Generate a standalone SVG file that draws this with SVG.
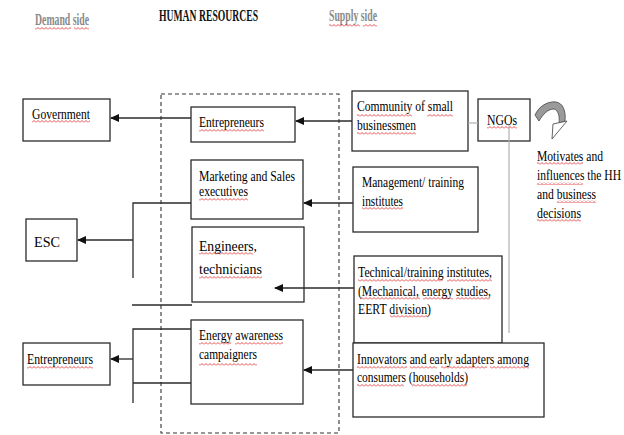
<svg xmlns="http://www.w3.org/2000/svg" width="624" height="435" viewBox="0 0 624 435">
  <style>
    .box { fill: #fff; stroke: #2b2b2b; stroke-width: 1.3; }
    .t { font-family: "Liberation Serif", "Times New Roman", serif; font-size: 15px; fill: #000; }
    .hd { font-family: "Liberation Serif", "Times New Roman", serif; font-size: 16px; font-weight: bold; }
    .gray { fill: #8a8a8a; }
    .wire { stroke: #2b2b2b; stroke-width: 1.3; fill: none; }
    .arrow { stroke: #2b2b2b; stroke-width: 1.3; fill: none; marker-end: url(#head); }
    .thin { stroke: #b0b0b0; stroke-width: 1.2; fill: none; }
    .sq { fill: url(#squiggle); }
  </style>
  <defs>
    <marker id="head" markerUnits="userSpaceOnUse" markerWidth="9" markerHeight="8" refX="8" refY="4" orient="auto">
      <path d="M0,0 L9,4 L0,8 z" fill="#111"/>
    </marker>
    <pattern id="squiggle" patternUnits="userSpaceOnUse" width="4" height="3">
      <path d="M0,2.5 L2,0.5 L4,2.5" fill="none" stroke="#e02020" stroke-width="0.8"/>
    </pattern>
  </defs>

  <rect width="624" height="435" fill="#fff"/>

  <!-- column headings -->
  <g id="headings">
    <text class="hd gray" x="35" y="25" textLength="54" lengthAdjust="spacingAndGlyphs">Demand side</text>
    <text class="hd" x="159" y="21" textLength="99" lengthAdjust="spacingAndGlyphs" fill="#111">HUMAN RESOURCES</text>
    <text class="hd gray" x="329" y="21" textLength="48" lengthAdjust="spacingAndGlyphs">Supply side</text>
    <rect class="sq" x="35" y="27" width="36" height="3"/>
    <rect class="sq" x="74" y="27" width="15" height="3"/>
    <rect class="sq" x="329" y="24" width="31" height="3"/>
    <rect class="sq" x="363" y="24" width="14" height="3"/>
  </g>

  <!-- human resources frame -->
  <rect id="hr-frame" x="161" y="94" width="178" height="339" fill="none" stroke="#333" stroke-width="1.1" stroke-dasharray="4,3"/>

  <!-- demand side -->
  <g id="government">
    <rect class="box" x="23" y="99" width="87" height="42"/>
    <text class="t" x="32" y="119" textLength="58" lengthAdjust="spacingAndGlyphs">Government</text>
    <rect class="sq" x="32" y="120" width="58" height="3"/>
  </g>
  <g id="esc">
    <rect class="box" x="26" y="219" width="51" height="42"/>
    <text class="t" x="34" y="247" font-size="19" textLength="26" lengthAdjust="spacingAndGlyphs">ESC</text>
  </g>
  <g id="entrepreneurs-demand">
    <rect class="box" x="23" y="343" width="87" height="42"/>
    <text class="t" x="27" y="364" textLength="66" lengthAdjust="spacingAndGlyphs">Entrepreneurs</text>
    <rect class="sq" x="27" y="366" width="66" height="3"/>
  </g>

  <!-- human resources -->
  <g id="entrepreneurs-hr">
    <rect class="box" x="191" y="107" width="104" height="35"/>
    <text class="t" x="199" y="127" textLength="65" lengthAdjust="spacingAndGlyphs">Entrepreneurs</text>
    <rect class="sq" x="199" y="129" width="65" height="3"/>
  </g>
  <g id="marketing">
    <rect class="box" x="191" y="160" width="112" height="59"/>
    <text class="t" x="199" y="181" textLength="96" lengthAdjust="spacingAndGlyphs">Marketing and Sales</text>
    <text class="t" x="199" y="196" textLength="49" lengthAdjust="spacingAndGlyphs">executives</text>
    <rect class="sq" x="199" y="198" width="49" height="3"/>
  </g>
  <g id="engineers">
    <rect class="box" x="192" y="227" width="112" height="75"/>
    <text class="t" x="199" y="251" font-size="18" textLength="58" lengthAdjust="spacingAndGlyphs">Engineers,</text>
    <text class="t" x="199" y="274" font-size="18" textLength="63" lengthAdjust="spacingAndGlyphs">technicians</text>
    <rect class="sq" x="199" y="252" width="54" height="3"/>
    <rect class="sq" x="199" y="276" width="63" height="3"/>
  </g>
  <g id="energy-awareness">
    <rect class="box" x="191" y="320" width="112" height="84"/>
    <text class="t" x="199" y="340" textLength="84" lengthAdjust="spacingAndGlyphs">Energy awareness</text>
    <text class="t" x="199" y="359" textLength="58" lengthAdjust="spacingAndGlyphs">campaigners</text>
    <rect class="sq" x="199" y="342" width="32" height="3"/>
    <rect class="sq" x="235" y="342" width="48" height="3"/>
    <rect class="sq" x="199" y="363" width="58" height="3"/>
  </g>

  <!-- supply side -->
  <g id="community">
    <rect class="box" x="352" y="91" width="116" height="60"/>
    <text class="t" x="357" y="111" textLength="96" lengthAdjust="spacingAndGlyphs">Community of small</text>
    <text class="t" x="357" y="130" textLength="59" lengthAdjust="spacingAndGlyphs">businessmen</text>
    <rect class="sq" x="357" y="114" width="55" height="3"/>
    <rect class="sq" x="427" y="114" width="26" height="3"/>
    <rect class="sq" x="357" y="132" width="59" height="3"/>
  </g>
  <g id="ngos">
    <rect class="box" x="478" y="99" width="52" height="42"/>
    <text class="t" x="487" y="125" textLength="30" lengthAdjust="spacingAndGlyphs">NGOs</text>
    <rect class="sq" x="487" y="126" width="30" height="3"/>
  </g>
  <g id="management">
    <rect class="box" x="353" y="167" width="125" height="65"/>
    <text class="t" x="362" y="187" textLength="102" lengthAdjust="spacingAndGlyphs">Management/ training</text>
    <text class="t" x="362" y="206" textLength="41" lengthAdjust="spacingAndGlyphs">institutes</text>
    <rect class="sq" x="362" y="207" width="41" height="3"/>
  </g>
  <g id="technical">
    <rect class="box" x="354" y="256" width="148" height="87"/>
    <text class="t" x="358" y="277" textLength="134" lengthAdjust="spacingAndGlyphs">Technical/training institutes,</text>
    <text class="t" x="358" y="296" textLength="133" lengthAdjust="spacingAndGlyphs">(Mechanical, energy studies,</text>
    <text class="t" x="358" y="314" textLength="73" lengthAdjust="spacingAndGlyphs">EERT division)</text>
    <rect class="sq" x="358" y="279" width="85" height="3"/>
    <rect class="sq" x="447" y="279" width="45" height="3"/>
    <rect class="sq" x="360" y="297" width="60" height="3"/>
    <rect class="sq" x="423" y="297" width="30" height="3"/>
    <rect class="sq" x="456" y="297" width="34" height="3"/>
    <rect class="sq" x="390" y="315" width="38" height="3"/>
  </g>
  <g id="innovators">
    <rect class="box" x="353" y="343" width="191" height="74"/>
    <text class="t" x="357" y="364" textLength="172" lengthAdjust="spacingAndGlyphs">Innovators and early adapters among</text>
    <text class="t" x="357" y="382" textLength="111" lengthAdjust="spacingAndGlyphs">consumers (households)</text>
    <rect class="sq" x="357" y="366" width="50" height="3"/>
    <rect class="sq" x="410" y="366" width="27" height="3"/>
    <rect class="sq" x="441" y="366" width="46" height="3"/>
    <rect class="sq" x="490" y="366" width="39" height="3"/>
    <rect class="sq" x="357" y="384" width="47" height="3"/>
    <rect class="sq" x="412" y="384" width="55" height="3"/>
  </g>

  <!-- influence note -->
  <g id="influence">
    <path d="M535,115 C539,106 548,101 556,102 C563,103 566,111 565,121 L559,123 C560,116 558,110 554,109 C548,109 543,114 539,121 Z" fill="#9a9a9a" stroke="#555" stroke-width="0.9"/>
    <path d="M553,124 L567,121 L552,139 Z" fill="#fff" stroke="#555" stroke-width="0.9"/>
    <text class="t" x="537" y="161" textLength="66" lengthAdjust="spacingAndGlyphs">Motivates and</text>
    <text class="t" x="537" y="180" textLength="84" lengthAdjust="spacingAndGlyphs">influences the HH</text>
    <text class="t" x="537" y="199" textLength="59" lengthAdjust="spacingAndGlyphs">and business</text>
    <text class="t" x="537" y="218" textLength="44" lengthAdjust="spacingAndGlyphs">decisions</text>
    <rect class="sq" x="537" y="162" width="46" height="3"/>
    <rect class="sq" x="537" y="182" width="46" height="3"/>
    <rect class="sq" x="557" y="200" width="39" height="3"/>
    <rect class="sq" x="537" y="219" width="44" height="3"/>
  </g>

  <!-- connectors, drawn above the boxes -->
  <g id="connectors">
    <line class="arrow" x1="191" y1="118" x2="111" y2="118"/>
    <line class="arrow" x1="352" y1="121" x2="296" y2="121"/>
    <line class="thin" x1="468" y1="123" x2="478" y2="123"/>
    <line class="thin" x1="509" y1="125" x2="509" y2="333"/>
    <line class="arrow" x1="353" y1="203" x2="304" y2="203"/>
    <line class="arrow" x1="354" y1="288" x2="275" y2="288"/>
    <line class="arrow" x1="353" y1="370" x2="304" y2="370"/>
    <polyline class="wire" points="191,203 133,203 133,278"/>
    <line class="arrow" x1="133" y1="240" x2="78" y2="240"/>
    <line class="wire" x1="132" y1="305" x2="192" y2="305"/>
    <polyline class="wire" points="191,329 133,329 133,403"/>
    <line class="wire" x1="133" y1="383" x2="191" y2="383"/>
    <line class="arrow" x1="133" y1="359" x2="111" y2="359"/>
  </g>
</svg>
